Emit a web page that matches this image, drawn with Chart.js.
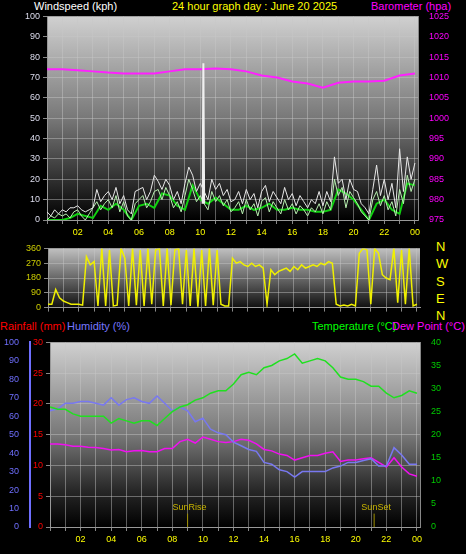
<!DOCTYPE html>
<html><head><meta charset="utf-8">
<script src="https://cdn.jsdelivr.net/npm/chart.js@4/dist/chart.umd.min.js"></script>
<style>
body{margin:0;background:#000;width:466px;height:554px;overflow:hidden;position:relative;font-family:"Liberation Sans",Arial,sans-serif}
canvas{position:absolute;left:0}
.t{position:absolute;font-size:11px;white-space:nowrap;line-height:12px}
</style></head><body>
<div class="t" style="left:34px;top:0;color:#fff">Windspeed (kph)</div>
<div class="t" style="left:172px;top:0;color:#ff0">24 hour graph day : June 20 2025</div>
<div class="t" style="left:371px;top:0;color:#f0f">Barometer (hpa)</div>
<div class="t" style="left:436px;top:238px;color:#ff0;line-height:17.3px;font-size:13px">N<br>W<br>S<br>E<br>N</div>
<div class="t" style="left:0;top:320px;color:#f00">Rainfall (mm)</div>
<div class="t" style="left:67px;top:320px;color:#77f">Humidity (%)</div>
<div class="t" style="left:312px;top:320px;color:#0f0">Temperature (°C)</div>
<div class="t" style="left:392px;top:320px;color:#f0f">Dew Point (°C)</div>
<canvas id="c1" width="466" height="236" style="top:8px"></canvas>
<canvas id="c2" width="466" height="76" style="top:240px"></canvas>
<canvas id="c3" width="466" height="220" style="top:334px"></canvas>
<script>
const hourTicks=["","","02","","04","","06","","08","","10","","12","","14","","16","","18","","20","","22","","00"];
const windGust=[4,2,5,3,5,4,6,6,7, 5,4,5,6,15,9,12,14, 10,16,8,12,5,3,14,15, 16,10,14,22,19,15,20,17, 10,14,8,18,26,22,14,18, 14,10,20,15,18,12,15,9, 10,14,8,15,10,13,6,14, 17,9,14,11,8,16,10,13, 7,12,9,6,10,8,14,7, 14,9,31,18,20,10,20,15, 14,8,6,3,15,27,12,20, 10,18,6,35,14,31,20,28];
const gustSpikeHours=[10.15,10.2,10.25];
const gustSpikeValues=[8,77,8];
const windSpeed=[0,2,1,3,2,3,1,4,5, 2,0,3,6,9,5,8,10, 6,12,4,9,2,0,8,10, 12,6,9,14,15,10,16,12, 6,9,4,12,20,15,9,12, 8,5,14,9,12,7,10,4, 6,9,3,10,5,8,2,9, 11,4,9,6,3,10,5,8, 3,7,5,2,6,4,8,3, 9,5,20,12,16,6,14,11, 8,4,2,0,10,14,7,12, 5,9,2,15,8,22,14,20];
const windAvg=[0,0,0,1,3,2,1,7,5,8,5,0,7,8,6,13,12,7,5,17,10,8,11,8,5,5,7,5,6,8,5,5,6,5,5,4,4,5,15,13,10,5,0,8,10,5,3,18,17];
const barometer=[1012,1012,1011.8,1011.5,1011.2,1011,1011,1011,1011.5,1012,1012,1012.2,1012,1011.5,1010.5,1010,1009,1008.5,1007.5,1008.7,1009,1009,1009.2,1010.5,1011];
const windDir=[20,20,110,60,40,30,20,20,20,15,310,260,280,10,360,10,350,10,15,360,300,10,360,15,350,10,360,20,350,360,10,360,15,350,360,20,350,10,360,5,350,10,360,15,350,20,10,10,300,270,280,260,250,270,250,260,240,20,230,200,220,230,240,220,250,230,260,240,250,260,250,270,260,280,270,20,10,15,10,20,10,330,360,350,20,360,330,200,180,170,360,30,350,20,360,10,20];
const temperature=[26,25.5,25.5,24.5,24,24,24,24,22.5,23.5,23,22.5,23,23,22,23.5,25,26,26.5,27.5,28,29,29.5,29.5,31,33,33.5,33,34.5,35,36,36.5,37.5,35.5,36,36.5,36,34.5,32.5,32,32,31.5,30.5,30.5,29,28,28.5,29.5,29];
const humidity=[63,64,67,67,68,68,67,66,70,66,69,70,68,67,71,67,63,65,63,57,59,53,51,50,46,44,42,41,35,34,31,30,27,30,30,30,30,32,33,35,35,36,37,33,33,43,39,34,34];
const dewPoint=[18,18,17.8,17.5,17.5,17.3,17.2,17,16.7,16.8,16.3,16.5,16.6,16.3,16.3,17,17,18.5,19,18.2,19.5,19,18.5,18.3,18.5,19,18.8,18,16.8,16.5,15.8,15.5,14.5,15,15.5,15.5,16,16.3,14.2,14.5,14.5,14.8,15,14,13,15,13,11.5,11];
const rainfall=[0,0];
const sunRise=9.0, sunSet=21.2;

const pts=(arr,step)=>arr.map((v,i)=>({x:i*step,y:v}));
const F={family:"Liberation Sans",size:9};
const grid={color:'rgba(200,200,200,0.45)',lineWidth:1,tickLength:4,tickColor:'#888'};
function bg(stops){return {id:'bg',beforeDraw(c){const a=c.chartArea,x=c.ctx;const g=x.createLinearGradient(0,a.top,0,a.bottom);stops.forEach(s=>g.addColorStop(s[0],s[1]));x.save();x.fillStyle=g;x.fillRect(a.left,a.top,a.right-a.left,a.bottom-a.top);x.restore();}};}
const xAxis=(show)=>({type:'linear',min:0,max:24.2,afterBuildTicks(s){s.ticks=hourTicks.map((_,i)=>({value:i}));},
  ticks:{display:show,color:'#ff0',font:F,autoSkip:false,maxRotation:0,callback:(v)=>hourTicks[v]||''},
  grid:{...grid,borderDash:[1,2]},border:{color:'#999'}});
function fix(w){return function(s){s.width=w;}}
function fixH(h){return function(s){s.height=h;}}
const base={responsive:false,animation:false,plugins:{legend:{display:false},tooltip:{enabled:false}},elements:{point:{radius:0},line:{tension:0,borderWidth:1}}};

new Chart(document.getElementById('c1'),{type:'line',data:{datasets:[
 {data:pts(windGust,0.25),borderColor:'#e8e8e8',yAxisID:'y'},
 {data:gustSpikeHours.map((h,i)=>({x:h,y:gustSpikeValues[i]})),borderColor:'#f0f0f0',borderWidth:2,yAxisID:'y'},
 {data:pts(windSpeed,0.25),borderColor:'#b8f0b0',yAxisID:'y'},
 {data:pts(windAvg,0.5),borderColor:'#10d010',borderWidth:2,yAxisID:'y'},
 {data:pts(barometer,1),borderColor:'#ff20ff',borderWidth:2,yAxisID:'y2'}]},
 options:{...base,layout:{padding:{top:4}},scales:{
  x:{...xAxis(true),afterFit:fixH(24)},
  y:{position:'left',min:0,max:100,ticks:{stepSize:10,color:'#dde',font:F},grid:{...grid,borderDash:[1,2]},border:{color:'#999'},afterFit:fix(47)},
  y2:{position:'right',min:975,max:1025,ticks:{stepSize:5,color:'#f0f',font:F,callback:v=>String(v)},grid:{display:false},border:{color:'#888'},afterFit:fix(48)}}},
 plugins:[bg([[0,'#d0d0d0'],[0.5,'#787878'],[0.8,'#303030'],[1,'#000']])]});

new Chart(document.getElementById('c2'),{type:'line',data:{datasets:[
 {data:pts(windDir,0.25),borderColor:'#f0f000',borderWidth:1.5}]},
 options:{...base,layout:{padding:{top:7,right:46}},scales:{
  x:{...xAxis(false),afterFit:fixH(5)},
  y:{min:0,max:360,afterBuildTicks(s){s.ticks=[0,90,180,270,360].map(v=>({value:v}));},ticks:{color:'#cc0',font:F},grid:{...grid,borderDash:[1,2]},border:{color:'#999'},afterFit:fix(48)}}},
 plugins:[bg([[0,'#c0c0c0'],[1,'#101010']])]});

const sunPlugin={id:'sun',afterDatasetsDraw(c){const x=c.scales.x,y=c.scales.t,ctx=c.ctx;[[sunRise,'SunRise'],[sunSet,'SunSet']].forEach(([h,l])=>{const px=x.getPixelForValue(h);ctx.save();ctx.strokeStyle='#a09000';ctx.beginPath();ctx.moveTo(px,y.getPixelForValue(0));ctx.lineTo(px,y.getPixelForValue(2.9));ctx.stroke();ctx.fillStyle='#c8b400';ctx.font='9px Liberation Sans';ctx.textAlign='center';ctx.fillText(l,px+2,y.getPixelForValue(3.6));ctx.restore();});}};
new Chart(document.getElementById('c3'),{type:'line',data:{datasets:[
 {data:pts(temperature,0.5),borderColor:'#20e020',borderWidth:1.5,yAxisID:'t'},
 {data:pts(humidity,0.5),borderColor:'#7878f0',borderWidth:1.5,yAxisID:'h'},
 {data:pts(dewPoint,0.5),borderColor:'#f010f0',borderWidth:1.5,yAxisID:'t'},
 {data:[{x:0,y:rainfall[0]},{x:24.2,y:rainfall[1]}],borderColor:'#f00',borderWidth:3,yAxisID:'r'}]},
 options:{...base,layout:{padding:{top:8}},scales:{
  x:{...xAxis(true),afterFit:fixH(27)},
  r:{position:'left',min:0,max:30,ticks:{stepSize:5,color:'#f00',font:F},grid:{...grid,borderDash:[1,2]},border:{color:'#999'},afterFit:fix(20)},
  h:{position:'left',min:0,max:100,ticks:{stepSize:10,color:'#6f6fff',font:F},grid:{display:false},border:{color:'#6f6fff',width:2},afterFit:fix(30)},
  t:{position:'right',min:0,max:40,ticks:{stepSize:5,color:'#0c0',font:F},grid:{display:false},border:{color:'#888'},afterFit:fix(46)}}},
 plugins:[bg([[0,'#d0d0d0'],[0.5,'#787878'],[0.8,'#282828'],[1,'#000']]),sunPlugin]});
</script></body></html>
